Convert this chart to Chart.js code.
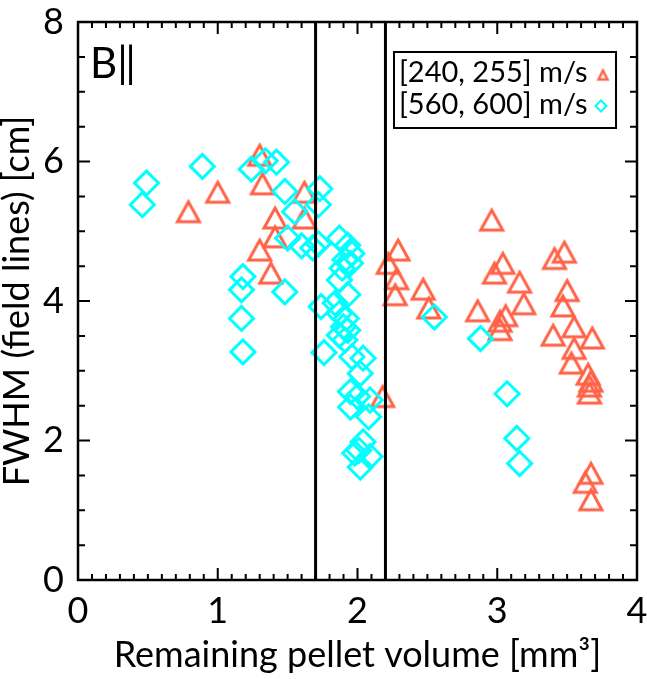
<!DOCTYPE html>
<html>
<head>
<meta charset="utf-8">
<script src="https://cdn.jsdelivr.net/npm/chart.js@4.4.0/dist/chart.umd.min.js"></script>
<style>
body { margin: 0; background: #fff; }
</style>
</head>
<body>
<canvas id="grafico" width="647" height="679"></canvas>
<script>
// valores (volume restante x FWHM)
var tri_x = [0.79, 1.00, 1.30, 1.32, 1.41, 1.41, 1.30, 1.38, 1.62, 1.62, 2.18,
    2.29, 2.22, 2.28, 2.27, 2.47, 2.51, 2.86, 2.96, 2.98, 3.04, 3.06, 3.02, 3.02,
    3.16, 3.19, 3.41, 3.48, 3.50, 3.47, 3.40, 3.55, 3.68, 3.55, 3.53, 3.65, 3.67,
    3.66, 3.66, 3.67, 3.63, 3.67]
var tri_y = [5.28, 5.56, 6.09, 5.68, 5.19, 4.92, 4.73, 4.40, 5.56, 5.19, 2.63,
    4.73, 4.54, 4.32, 4.09, 4.17, 3.90, 3.86, 5.16, 4.40, 4.54, 3.79, 3.71, 3.59,
    4.27, 3.96, 4.61, 4.70, 4.15, 3.93, 3.51, 3.63, 3.47, 3.32, 3.11, 2.95, 2.85,
    2.78, 2.68, 1.53, 1.40, 1.15]

var dia_x = [0.49, 0.46, 0.89, 1.24, 1.34, 1.42, 1.48, 1.55, 1.73, 1.72, 1.50,
    1.60, 1.68, 1.72, 1.18, 1.17, 1.17, 1.18, 1.48,
    1.87, 1.93, 1.96, 1.91, 1.95, 1.89, 1.87, 1.93, 1.74, 1.84, 1.87, 1.92, 1.90,
    1.93, 1.87, 1.91, 1.76, 1.96, 2.04, 2.02, 1.95, 2.00, 1.95, 2.08, 2.09, 2.04,
    2.01, 2.09, 2.02, 1.98,
    2.55, 2.88, 3.07, 3.14, 3.16]
var dia_y = [5.69, 5.38, 5.93, 5.89, 6.01, 5.99, 5.57, 5.28, 5.61, 5.38, 4.90,
    4.79, 4.76, 4.82, 4.35, 4.16, 3.75, 3.27, 4.13,
    4.90, 4.80, 4.68, 4.59, 4.54, 4.47, 4.30, 4.09, 3.92, 3.97, 3.82, 3.75, 3.63,
    3.58, 3.51, 3.44, 3.26, 3.20, 3.18, 2.96, 2.70, 2.63, 2.48, 2.34, 2.58, 1.98,
    1.86, 1.77, 1.62, 1.82,
    3.77, 3.46, 2.67, 2.03, 1.67]

var linhas_x = [1.7, 2.2]
var ticks_x = [0, 1, 2, 3, 4]
var ticks_y = [0, 2, 4, 6, 8]
var legenda = ['[240, 255] m/s', '[560, 600] m/s']

var cor_tri = '#FF6347'
var cor_dia = '#00FFFF'
var fonte = 'Lato, "DejaVu Sans", sans-serif'

function juntar(xs, ys) {
    var pts = []
    for (var i = 0; i < xs.length; i++) {
        pts.push({ x: xs[i], y: ys[i] })
    }
    return pts
}

// triangulo desenhado num canvas pequeno, usado como pointStyle
function fazerTriangulo(w, h, lw, cor) {
    var pad = 5
    var c = document.createElement('canvas')
    c.width = w + pad * 2
    c.height = h + pad * 2
    var ctx = c.getContext('2d')
    ctx.strokeStyle = cor
    ctx.lineWidth = lw
    ctx.beginPath()
    ctx.moveTo(c.width / 2, pad)
    ctx.lineTo(pad + w, pad + h)
    ctx.lineTo(pad, pad + h)
    ctx.closePath()
    ctx.stroke()
    return c
}

var triGrande = fazerTriangulo(22, 20, 3, cor_tri)
var triPequeno = fazerTriangulo(9, 9, 2.5, cor_tri)

var datasets = [
    {
        label: legenda[0],
        data: juntar(tri_x, tri_y),
        pointStyle: triGrande,
        order: 2
    },
    {
        label: legenda[1],
        data: juntar(dia_x, dia_y),
        pointStyle: 'rectRot',
        pointRadius: 12,
        pointBorderWidth: 3,
        pointBorderColor: cor_dia,
        pointBackgroundColor: 'rgba(0,0,0,0)',
        order: 1
    }
]
for (var k = 0; k < linhas_x.length; k++) {
    datasets.push({
        type: 'line',
        label: 'divisao' + k,
        data: [{ x: linhas_x[k], y: 0 }, { x: linhas_x[k], y: 8 }],
        borderColor: '#000',
        borderWidth: 3,
        pointRadius: 0,
        order: 0
    })
}

// moldura com ticks para dentro nos quatro lados
var moldura = {
    id: 'moldura',
    afterDraw: function (chart) {
        var ctx = chart.ctx
        var a = chart.chartArea
        var sx = chart.scales.x
        var sy = chart.scales.y
        ctx.save()
        ctx.strokeStyle = '#000'
        ctx.lineWidth = 2.5
        ctx.strokeRect(a.left, a.top, a.right - a.left, a.bottom - a.top)
        ctx.lineWidth = 2
        ctx.beginPath()
        for (var i = 0; i <= 40; i++) {
            var px = sx.getPixelForValue(i / 10)
            var len = (i % 10 == 0) ? 12 : 6
            ctx.moveTo(px, a.bottom); ctx.lineTo(px, a.bottom - len)
            ctx.moveTo(px, a.top); ctx.lineTo(px, a.top + len)
        }
        for (var j = 0; j <= 16; j++) {
            var py = sy.getPixelForValue(j / 2)
            var len2 = (j % 4 == 0) ? 12 : 7
            ctx.moveTo(a.left, py); ctx.lineTo(a.left + len2, py)
            ctx.moveTo(a.right, py); ctx.lineTo(a.right - len2, py)
        }
        ctx.stroke()

        // painel B||
        ctx.fillStyle = '#000'
        ctx.font = '42px ' + fonte
        ctx.textBaseline = 'middle'
        ctx.textAlign = 'left'
        ctx.fillText('B\u2016', a.left + 12, a.top + 42)

        // legenda em caixa
        var bx = a.right - 243, by = a.top + 30
        ctx.lineWidth = 2
        ctx.strokeRect(bx, by, 222, 76)
        ctx.font = '29px ' + fonte
        ctx.fillText(legenda[0], bx + 5, by + 21)
        ctx.fillText(legenda[1], bx + 5, by + 53)
        ctx.fillStyle = 'rgba(0,0,0,0)'
        Chart.helpers.drawPoint(ctx, { pointStyle: triPequeno, radius: 6, borderWidth: 2.5 }, bx + 209, by + 23)
        ctx.strokeStyle = cor_dia
        Chart.helpers.drawPoint(ctx, { pointStyle: 'rectRot', radius: 5.5, borderWidth: 2.5 }, bx + 207, by + 54)
        ctx.restore()
    }
}

var grafico = new Chart(document.getElementById('grafico'), {
    type: 'scatter',
    data: { datasets: datasets },
    options: {
        responsive: false,
        animation: false,
        layout: { autoPadding: false, padding: { top: 22, right: 10, left: 0, bottom: 0 } },
        plugins: { legend: { display: false }, tooltip: { enabled: false } },
        scales: {
            x: {
                type: 'linear',
                min: 0, max: 4,
                afterBuildTicks: function (s) { s.ticks = ticks_x.map(function (v) { return { value: v } }) },
                afterFit: function (s) {
                    s.height = 99
                    s.paddingLeft = 0
                    s.paddingRight = 0
                },
                grid: { display: false, drawTicks: false },
                border: { display: false },
                ticks: { color: '#000', padding: 10, font: { family: fonte, size: 36 } },
                title: {
                    display: true,
                    text: 'Remaining pellet volume [mm\u00B3]',
                    color: '#000',
                    font: { family: fonte, size: 36 },
                    padding: { top: 0, bottom: 2 }
                }
            },
            y: {
                type: 'linear',
                min: 0, max: 8,
                afterBuildTicks: function (s) { s.ticks = ticks_y.map(function (v) { return { value: v } }) },
                afterFit: function (s) {
                    s.width = 78
                    s.paddingTop = 0
                    s.paddingBottom = 0
                },
                grid: { display: false, drawTicks: false },
                border: { display: false },
                ticks: { color: '#000', padding: 14, font: { family: fonte, size: 36 } },
                title: {
                    display: true,
                    text: 'FWHM (field lines) [cm]',
                    color: '#000',
                    font: { family: fonte, size: 36 },
                    padding: { top: -4, bottom: 0 }
                }
            }
        }
    },
    plugins: [moldura]
})
</script>
</body>
</html>
